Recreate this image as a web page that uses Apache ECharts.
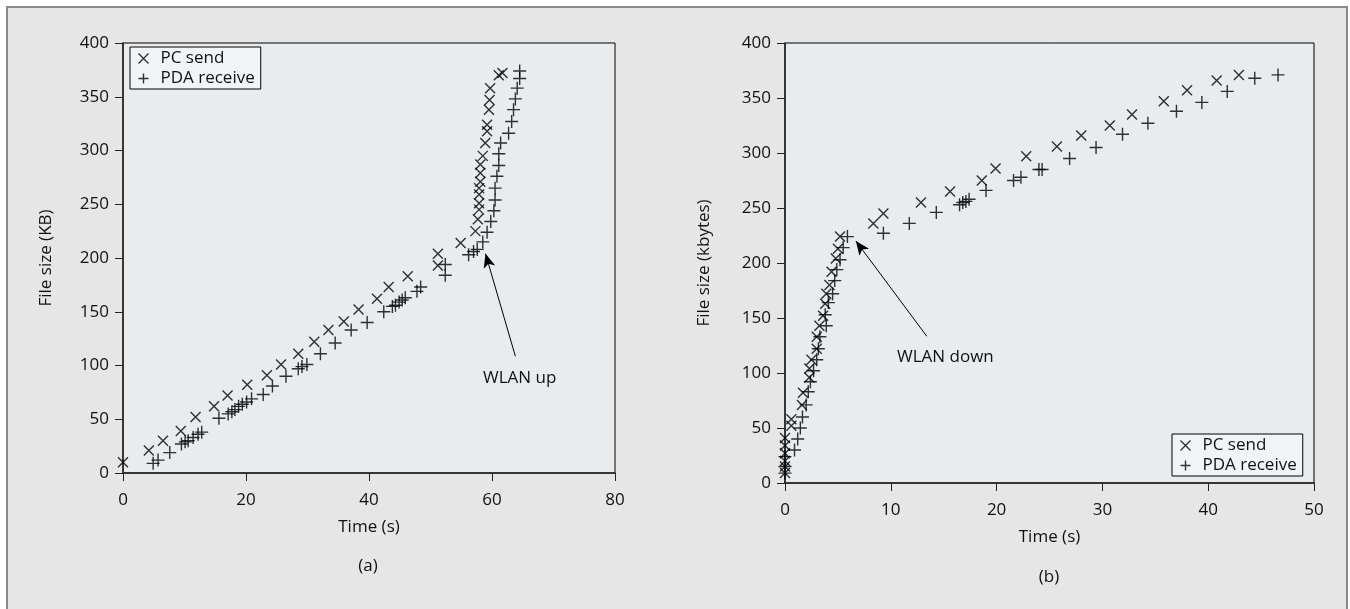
<!DOCTYPE html>
<html>
<head>
<meta charset="utf-8">
<title>File transfer</title>
<script src="https://cdn.jsdelivr.net/npm/echarts@6/dist/echarts.min.js"></script>
<style>
  html, body { margin: 0; padding: 0; background: #fff; }
  #main { width: 1350px; height: 609px; }
</style>
</head>
<body>
<div id="main"></div>
<script>
// (a) WLAN up - time (s), file size (KB)
var sendA = [
    [0, 10], [4.2, 21], [6.5, 30], [9.4, 39], [11.8, 52], [14.8, 62], [17, 72], [20.2, 82],
    [23.4, 91], [25.7, 101], [28.5, 111], [31.1, 122], [33.4, 133], [35.9, 141], [38.3, 152],
    [41.3, 162], [43.2, 173], [46.3, 183], [51.2, 193], [51.2, 204], [54.9, 214], [57.3, 225],
    [57.7, 236], [57.9, 245], [57.9, 251], [57.9, 259], [57.9, 265], [58.1, 271], [58.1, 279],
    [58.1, 287], [58.5, 295], [58.9, 307], [59.2, 318], [59.2, 324], [59.5, 338], [59.6, 347],
    [59.7, 358], [61.1, 370], [61.7, 372]
];
var receiveA = [
    [4.9, 9], [5.7, 12], [7.6, 19], [9.5, 27], [10.1, 29], [10.6, 30], [11.4, 33], [12.2, 36],
    [12.8, 38], [15.6, 51], [17.1, 55], [17.7, 57], [18.2, 59], [18.8, 62], [19.4, 64], [20.1, 66],
    [20.9, 69], [22.8, 73], [24.3, 81], [26.5, 90], [28.5, 97], [29.1, 99], [29.9, 101], [32.1, 111],
    [34.5, 121], [37.1, 133], [39.7, 140], [42.4, 150], [43.8, 155], [44.3, 156], [44.9, 159],
    [45.4, 161], [45.9, 163], [47.8, 169], [48.4, 173], [52.4, 184], [52.4, 194], [56.2, 203],
    [57.0, 206], [57.6, 208], [58.5, 215], [59.2, 224], [59.8, 234], [60.3, 244], [60.5, 254],
    [60.5, 265], [60.8, 276], [61.1, 286], [61.1, 297], [61.4, 307], [62.7, 316], [63.2, 327],
    [63.5, 338], [63.8, 348], [64.1, 358], [64.5, 367], [64.5, 374]
];
// (b) WLAN down - time (s), file size (kbytes)
var sendB = [
    [0, 9], [0, 15], [0, 20], [0, 27], [0, 34], [0, 41], [0.6, 52], [0.6, 58], [1.6, 71], [1.7, 82],
    [2.3, 96], [2.3, 104], [2.5, 112], [3.0, 122], [3.0, 133], [3.25, 143], [3.6, 152], [3.8, 163],
    [3.9, 172], [4.2, 180], [4.4, 192], [4.8, 204], [5.0, 213], [5.2, 224], [8.35, 236], [9.3, 245],
    [12.85, 255], [15.6, 265], [18.6, 275], [19.9, 286], [22.8, 297], [25.7, 306], [28.0, 316],
    [30.7, 325], [32.8, 335], [35.8, 347], [38.0, 357], [40.8, 366], [42.9, 371]
];
var receiveB = [
    [0, 9], [0, 15], [0, 24], [0.9, 30], [1.2, 40], [1.45, 50], [1.65, 60], [2.0, 71], [2.2, 83],
    [2.4, 92], [2.7, 102], [3.0, 112], [3.15, 122], [3.3, 133], [3.9, 143], [3.8, 153], [4.1, 164],
    [4.5, 172], [4.7, 184], [4.9, 194], [5.2, 203], [5.5, 214], [5.9, 224], [9.3, 227], [11.75, 236],
    [14.3, 246], [16.5, 253], [16.8, 255], [17.1, 256], [17.4, 258], [19.0, 266], [21.6, 275],
    [22.3, 278], [24.0, 285], [24.3, 285], [26.9, 295], [29.4, 305], [31.9, 317], [34.3, 327],
    [37.0, 338], [39.4, 346], [41.8, 356], [44.4, 368], [46.6, 371]
];
var seriesNames = ['PC send', 'PDA receive'];
var arrowA = [[63.8, 108.6], [58.95, 204]];
var arrowB = [[13.4, 133.4], [6.7, 220]];

var FONT = '"Open Sans", sans-serif';
var FS = 17;
var crossX = 'path://M0,0L10,10M10,0L0,10';
var crossPlus = 'path://M0,5L10,5M5,0L5,10';
var markStyle = { color: 'none', borderColor: '#000', borderWidth: 1.4 };

function axisX(idx, max, interval) {
    return {
        gridIndex: idx, type: 'value', min: 0, max: max, interval: interval,
        name: 'Time (s)', nameLocation: 'middle', nameGap: 46,
        nameTextStyle: { color: '#111', fontSize: FS, fontFamily: FONT },
        axisLine: { lineStyle: { color: '#222', width: 1.5 } },
        axisTick: { inside: false, length: 8, lineStyle: { color: '#222' } },
        axisLabel: { color: '#111', fontSize: FS, fontFamily: FONT, margin: 19 },
        splitLine: { show: false }
    };
}
function axisY(idx, name, gap) {
    return {
        gridIndex: idx, type: 'value', min: 0, max: 400, interval: 50,
        name: name, nameLocation: 'middle', nameGap: gap,
        nameTextStyle: { color: '#111', fontSize: FS, fontFamily: FONT },
        axisLine: { lineStyle: { color: '#222', width: 1.5 } },
        axisTick: { inside: false, length: 8, lineStyle: { color: '#222' } },
        axisLabel: { color: '#111', fontSize: FS, fontFamily: FONT, margin: 14 },
        splitLine: { show: false }
    };
}
function legendBox(left, top) {
    return {
        left: left, top: top, orient: 'vertical', itemGap: 3,
        itemWidth: 10, itemHeight: 10,
        data: [{ name: seriesNames[0], icon: crossX }, { name: seriesNames[1], icon: crossPlus }],
        itemStyle: markStyle,
        backgroundColor: '#f1f4f6', borderColor: '#000', borderWidth: 1,
        padding: [3, 6, 2, 6], selectedMode: false,
        textStyle: { color: '#111', fontSize: FS, fontFamily: FONT, padding: [0, 0, 0, 7] }
    };
}
function arrow(pts) {
    return {
        silent: true, symbol: ['none', 'arrow'], symbolSize: [9, 14],
        label: { show: false },
        lineStyle: { color: '#000', width: 1, type: 'solid' },
        data: [[{ coord: pts[0] }, { coord: pts[1] }]]
    };
}
function scatter(name, data, idx, symbol, size, extra) {
    var s = {
        name: name, type: 'scatter', xAxisIndex: idx, yAxisIndex: idx,
        data: data, symbol: symbol, symbolSize: size,
        itemStyle: markStyle, emphasis: { disabled: true }
    };
    if (extra) s.markLine = extra;
    return s;
}

var myChart = echarts.init(document.getElementById('main'));
var option = {
    animation: false,
    backgroundColor: '#fff',
    graphic: [
        { type: 'rect', z: -10, shape: { x: 7, y: 7, width: 1340, height: 620 },
          style: { fill: '#e6e6e6', stroke: '#8a8a8a', lineWidth: 2 } },
        { type: 'text', x: 483, y: 378, style: { text: 'WLAN up', fill: '#111', font: FS + 'px ' + FONT, verticalAlign: 'middle' } },
        { type: 'text', x: 897, y: 357, style: { text: 'WLAN down', fill: '#111', font: FS + 'px ' + FONT, verticalAlign: 'middle' } },
        { type: 'text', x: 368, y: 566, style: { text: '(a)', fill: '#111', font: FS + 'px ' + FONT, align: 'center', verticalAlign: 'middle' } },
        { type: 'text', x: 1049, y: 577, style: { text: '(b)', fill: '#111', font: FS + 'px ' + FONT, align: 'center', verticalAlign: 'middle' } }
    ],
    grid: [
        { left: 123, top: 43, width: 492, height: 430, show: true, backgroundColor: '#e8ecef', borderColor: '#000', borderWidth: 1 },
        { left: 785, top: 43, width: 529, height: 440, show: true, backgroundColor: '#e8ecef', borderColor: '#000', borderWidth: 1 }
    ],
    legend: [legendBox(130, 47), legendBox(1172, 434)],
    xAxis: [axisX(0, 80, 20), axisX(1, 50, 10)],
    yAxis: [axisY(0, 'File size (KB)', 68), axisY(1, 'File size (kbytes)', 72)],
    series: [
        scatter(seriesNames[0], sendA, 0, crossX, 10),
        scatter(seriesNames[1], receiveA, 0, crossPlus, 13, arrow(arrowA)),
        scatter(seriesNames[0], sendB, 1, crossX, 10),
        scatter(seriesNames[1], receiveB, 1, crossPlus, 13, arrow(arrowB))
    ]
};
myChart.setOption(option, true);
</script>
</body>
</html>
